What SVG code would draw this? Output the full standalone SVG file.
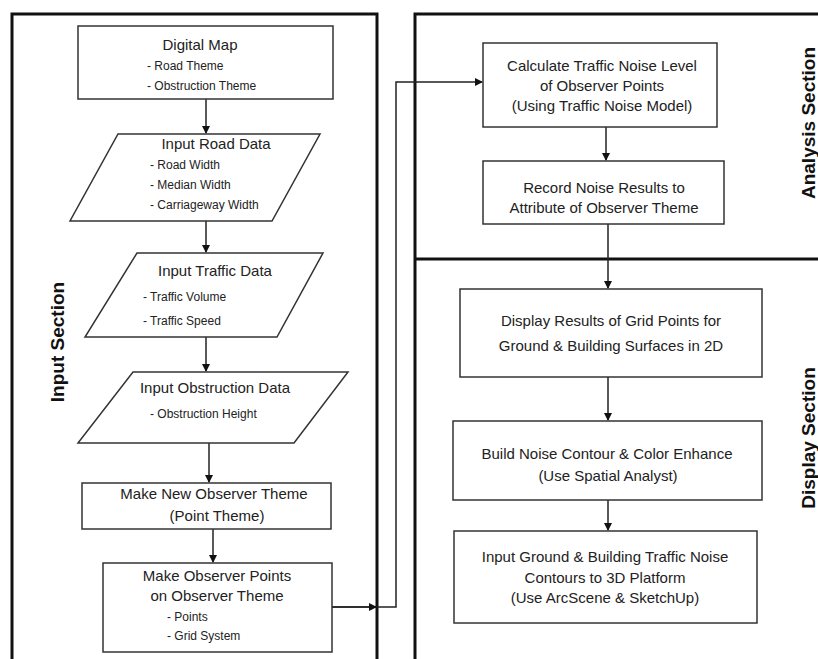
<svg xmlns="http://www.w3.org/2000/svg" width="818" height="659" viewBox="0 0 818 659">
<style>
.frame{fill:none;stroke:#111;stroke-width:3}
.box{fill:#fff;stroke:#333;stroke-width:1.5}
.t{font-family:"Liberation Sans",Arial,sans-serif;font-size:15px;fill:#222;text-anchor:middle}
.s{font-family:"Liberation Sans",Arial,sans-serif;font-size:12px;fill:#222}
.sec{font-family:"Liberation Sans",Arial,sans-serif;font-size:19px;font-weight:bold;fill:#111;text-anchor:middle}
.c{fill:none;stroke:#222;stroke-width:1.5}
</style>
<defs>
<marker id="ah" markerWidth="8" markerHeight="8" refX="7" refY="4" orient="auto" markerUnits="userSpaceOnUse">
<path d="M0,0 L8,4 L0,8 z" fill="#111"/>
</marker>
</defs>
<rect width="818" height="659" fill="#fff"/>
<g id="frames">
<path class="frame" d="M12,662 V14 H377 V662"/>
<path class="frame" d="M415,662 V14 H822"/>
<path class="frame" d="M415,259 H822"/>
<text class="sec" transform="translate(64,342) rotate(-90)">Input Section</text>
<text class="sec" transform="translate(815,123) rotate(-90)">Analysis Section</text>
<text class="sec" transform="translate(815,438) rotate(-90)">Display Section</text>
</g>
<g id="connectors">
<line class="c" x1="206" y1="99" x2="206" y2="133" marker-end="url(#ah)"/>
<line class="c" x1="206" y1="221" x2="206" y2="252" marker-end="url(#ah)"/>
<line class="c" x1="206" y1="337" x2="206" y2="371" marker-end="url(#ah)"/>
<line class="c" x1="209" y1="443" x2="209" y2="482" marker-end="url(#ah)"/>
<line class="c" x1="213" y1="529" x2="213" y2="562" marker-end="url(#ah)"/>
<path class="c" d="M332,607 H396 V82 H482" marker-end="url(#ah)"/>
<line class="c" x1="332" y1="607" x2="376" y2="607" marker-end="url(#ah)"/>
<line class="c" x1="606" y1="127" x2="606" y2="160" marker-end="url(#ah)"/>
<line class="c" x1="608" y1="224" x2="608" y2="288" marker-end="url(#ah)"/>
<line class="c" x1="608" y1="377" x2="608" y2="420" marker-end="url(#ah)"/>
<line class="c" x1="608" y1="500" x2="608" y2="530" marker-end="url(#ah)"/>
</g>
<g id="digital-map">
<rect class="box" x="78" y="26" width="255" height="73"/>
<text class="t" x="200" y="50">Digital Map</text>
<text class="s" x="147" y="70">- Road Theme</text>
<text class="s" x="147" y="90">- Obstruction Theme</text>
</g>
<g id="input-road">
<polygon class="box" points="118,134 320,134 272,221 70,221"/>
<text class="t" x="216" y="149">Input Road Data</text>
<text class="s" x="150" y="169">- Road Width</text>
<text class="s" x="150" y="189">- Median Width</text>
<text class="s" x="150" y="209">- Carriageway Width</text>
</g>
<g id="input-traffic">
<polygon class="box" points="137,253 323,253 277,337 85,337"/>
<text class="t" x="215" y="276">Input Traffic Data</text>
<text class="s" x="143" y="301">- Traffic Volume</text>
<text class="s" x="143" y="325">- Traffic Speed</text>
</g>
<g id="input-obstruction">
<polygon class="box" points="133,372 348,372 294,443 78,443"/>
<text class="t" x="215" y="393">Input Obstruction Data</text>
<text class="s" x="150" y="418">- Obstruction Height</text>
</g>
<g id="new-observer">
<rect class="box" x="82" y="483" width="249" height="46"/>
<text class="t" x="214" y="499">Make New Observer Theme</text>
<text class="t" x="217" y="521">(Point Theme)</text>
</g>
<g id="observer-points">
<rect class="box" x="103" y="563" width="229" height="89"/>
<text class="t" x="217" y="581">Make Observer Points</text>
<text class="t" x="217" y="601">on Observer Theme</text>
<text class="s" x="167" y="621">- Points</text>
<text class="s" x="167" y="640">- Grid System</text>
</g>
<g id="calculate">
<rect class="box" x="483" y="43" width="234" height="84"/>
<text class="t" x="602" y="71">Calculate Traffic Noise Level</text>
<text class="t" x="602" y="91">of Observer Points</text>
<text class="t" x="602" y="111">(Using Traffic Noise Model)</text>
</g>
<g id="record">
<rect class="box" x="483" y="161" width="241" height="63"/>
<text class="t" x="604" y="193">Record Noise Results to</text>
<text class="t" x="604" y="213">Attribute of Observer Theme</text>
</g>
<g id="display-results">
<rect class="box" x="460" y="289" width="302" height="88"/>
<text class="t" x="611" y="326">Display Results of Grid Points for</text>
<text class="t" x="611" y="351">Ground &amp; Building Surfaces in 2D</text>
</g>
<g id="build-contour">
<rect class="box" x="453" y="421" width="309" height="79"/>
<text class="t" x="607" y="459">Build Noise Contour &amp; Color Enhance</text>
<text class="t" x="608" y="481">(Use Spatial Analyst)</text>
</g>
<g id="input-ground">
<rect class="box" x="454" y="531" width="303" height="92"/>
<text class="t" x="605" y="562">Input Ground &amp; Building Traffic Noise</text>
<text class="t" x="605" y="583">Contours to 3D Platform</text>
<text class="t" x="605" y="603">(Use ArcScene &amp; SketchUp)</text>
</g>
</svg>
